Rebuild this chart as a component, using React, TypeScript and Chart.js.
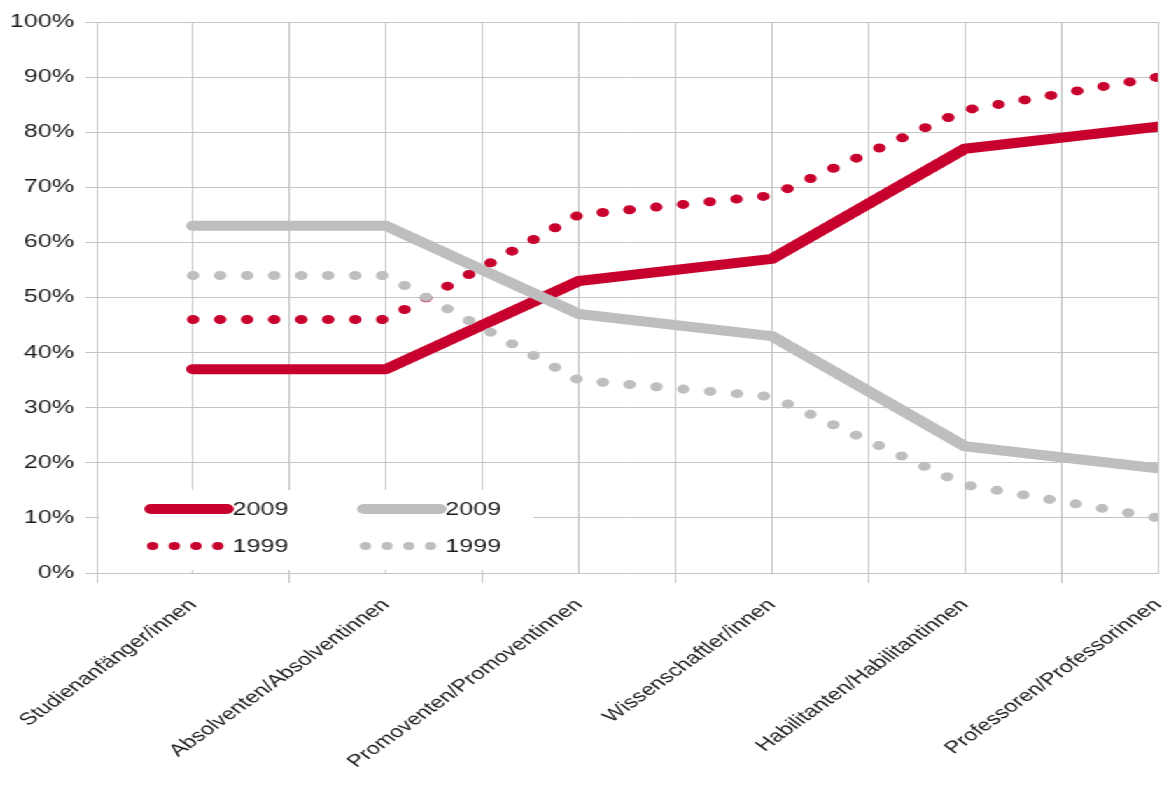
import React, { useEffect, useRef } from 'react';
import { Chart, registerables } from 'chart.js';

Chart.register(...registerables);

// ---- data ----
const categories = [
  'Studienanfänger/innen',
  'Absolventen/Absolventinnen',
  'Promoventen/Promoventinnen',
  'Wissenschaftler/innen',
  'Habilitanten/Habilitantinnen',
  'Professoren/Professorinnen',
];
const red2009 = [37, 37, 53, 57, 77, 81];
const gray2009 = [63, 63, 47, 43, 23, 19];
const red1999 = [46, 46, 65, 68.5, 84, 90];
const gray1999 = [54, 54, 35, 32, 16, 10];
const yTicks = [0, 10, 20, 30, 40, 50, 60, 70, 80, 90, 100];

const RED = '#c8002d';
const GRAY = '#bebebe';
const GRID = '#c4c4c4';
const TEXT = '#1a1a1a';
const FONT = 'Liberation Sans, Arial, sans-serif';

const STRETCH = 1.4;
const W = 835;
const H = 786;

const toPoints = (vals: number[]) => vals.map((v, i) => ({ x: 2 * i + 1, y: v }));

const legendPlugin = {
  id: 'innerLegend',
  beforeDatasetsDraw(chart: any) {
    const { ctx, chartArea } = chart;
    const left = chartArea.left;
    const bottom = chartArea.bottom;
    ctx.save();
    ctx.fillStyle = '#ffffff';
    ctx.fillRect(left + 2, bottom - 83, 310, 80);
    const colX = [left + 36, left + 188];
    const rowY = [bottom - 64, bottom - 27];
    chart.data.datasets.forEach((ds: any, i: number) => {
      const col = i % 2;
      const row = Math.floor(i / 2);
      const x0 = colX[col];
      const y = rowY[row];
      ctx.strokeStyle = ds.borderColor;
      ctx.fillStyle = ds.borderColor;
      if (row === 0) {
        ctx.lineWidth = 10;
        ctx.lineCap = 'round';
        ctx.beginPath();
        ctx.moveTo(x0 + 3, y);
        ctx.lineTo(x0 + 57, y);
        ctx.stroke();
      } else {
        for (let k = 0; k < 4; k++) {
          ctx.beginPath();
          ctx.arc(x0 + 4 + k * 15.5, y, 4, 0, Math.PI * 2);
          ctx.fill();
        }
      }
      ctx.fillStyle = TEXT;
      ctx.font = `18px ${FONT}`;
      ctx.textBaseline = 'middle';
      ctx.textAlign = 'left';
      ctx.fillText(ds.label, x0 + 61, y + 1);
    });
    ctx.restore();
  },
};

export default function App() {
  const canvasRef = useRef<HTMLCanvasElement | null>(null);

  useEffect(() => {
    const canvas = canvasRef.current;
    if (!canvas) return;
    const common = {
      pointRadius: 0,
      tension: 0,
      borderCapStyle: 'round',
      borderJoinStyle: 'round',
    };
    const chart = new Chart(canvas, {
      type: 'line',
      data: {
        datasets: [
          { ...common, label: '2009', data: toPoints(red2009), borderColor: RED, backgroundColor: RED, borderWidth: 10, order: 4 },
          { ...common, label: '2009', data: toPoints(gray2009), borderColor: GRAY, backgroundColor: GRAY, borderWidth: 10, order: 3 },
          { ...common, label: '1999', data: toPoints(red1999), borderColor: RED, backgroundColor: RED, borderWidth: 9, borderDash: [0, 19.3], order: 2 },
          { ...common, label: '1999', data: toPoints(gray1999), borderColor: GRAY, backgroundColor: GRAY, borderWidth: 9, borderDash: [0, 19.3], order: 1 },
        ],
      },
      options: {
        responsive: false,
        animation: false,
        devicePixelRatio: 1,
        layout: { padding: { top: 22, right: 8, left: 0, bottom: 0 } },
        plugins: {
          legend: { display: false },
          tooltip: { enabled: false },
        },
        scales: {
          x: {
            type: 'linear',
            min: 0,
            max: 11,
            afterFit: (s: any) => {
              s.height = 213;
              s.paddingLeft = 0;
              s.paddingRight = 0;
            },
            border: { color: GRID, width: 1 },
            grid: {
              color: GRID,
              lineWidth: 1,
              drawTicks: true,
              tickLength: 10,
              tickColor: (c: any) =>
                c.tick && Math.round(c.tick.value) % 2 === 1 ? 'rgba(0,0,0,0)' : GRID,
            },
            ticks: {
              stepSize: 1,
              autoSkip: false,
              minRotation: 45,
              maxRotation: 45,
              padding: 12,
              color: TEXT,
              font: { family: FONT, size: 17 },
              callback: (v: any) => {
                const n = Math.round(Number(v));
                return n % 2 === 1 ? categories[(n - 1) / 2] : '';
              },
            },
          },
          y: {
            type: 'linear',
            min: 0,
            max: 100,
            afterFit: (s: any) => {
              s.width = 69;
            },
            afterBuildTicks: (s: any) => {
              s.ticks = yTicks.map((v) => ({ value: v }));
            },
            border: { color: GRID, width: 1 },
            grid: {
              color: GRID,
              lineWidth: 1,
              drawTicks: true,
              tickLength: 8,
              tickColor: GRID,
            },
            ticks: {
              padding: 8,
              color: TEXT,
              font: { family: FONT, size: 18 },
              callback: (v: any) => `${v}%`,
            },
          },
        },
      },
      plugins: [legendPlugin],
    } as any);
    return () => chart.destroy();
  }, []);

  return (
    <div
      style={{
        position: 'absolute',
        left: 0,
        top: 0,
        width: W,
        height: H,
        transform: `scaleX(${STRETCH})`,
        transformOrigin: '0 0',
        background: '#fff',
      }}
    >
      <canvas ref={canvasRef} width={W} height={H} style={{ display: 'block', width: W, height: H }} />
    </div>
  );
}
